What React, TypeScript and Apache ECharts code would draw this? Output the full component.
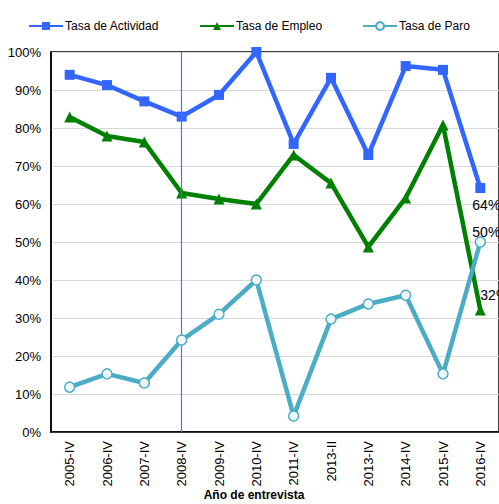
import React, { useEffect, useRef } from "react";
import * as echarts from "echarts";

const categories = ["2005-IV", "2006-IV", "2007-IV", "2008-IV", "2009-IV", "2010-IV", "2011-IV", "2013-II", "2013-IV", "2014-IV", "2015-IV", "2016-IV"];
const actividad = [94, 91.3, 87, 83, 88.7, 100, 75.8, 93.2, 72.9, 96.3, 95.3, 64.2];
const empleo = [82.9, 77.9, 76.3, 62.9, 61.3, 60, 72.9, 65.5, 48.7, 61.6, 80.8, 32.1];
const paro = [11.8, 15.3, 12.9, 24.2, 31, 40, 4.2, 29.7, 33.7, 36, 15.3, 50];

const FONT = "Liberation Sans, Arial, sans-serif";

function lastLabel(data: number[], position: any, offset: number[]) {
  return data.map((v, i) =>
    i === data.length - 1
      ? {
          value: v,
          label: {
            show: true,
            position,
            offset,
            formatter: (p: any) => Math.round(p.value) + "%",
            fontSize: 14,
            fontFamily: FONT,
            color: "#000",
          },
        }
      : v
  );
}

export default function App() {
  const ref = useRef<HTMLDivElement>(null);
  useEffect(() => {
    const chart = echarts.init(ref.current!, null, { renderer: "svg" });
    chart.setOption({
      animation: false,
      textStyle: { fontFamily: FONT },
      legend: {
        top: 20,
        left: 28,
        padding: 0,
        itemWidth: 34,
        itemHeight: 10,
        itemGap: 40,
        textStyle: { fontSize: 12, fontFamily: FONT, color: "#000", padding: [0, 0, 0, -3] },
        data: ["Tasa de Actividad", "Tasa de Empleo", "Tasa de Paro"],
      },
      grid: {
        left: 51,
        top: 52,
        bottom: 72,
        right: -4,
        show: true,
        borderColor: "#000",
        borderWidth: 1.5,
      },
      xAxis: {
        type: "category",
        data: categories,
        boundaryGap: true,
        axisLine: { lineStyle: { color: "#000", width: 1.5 } },
        axisTick: { show: false },
        axisLabel: { rotate: 90, fontSize: 13, color: "#000", margin: 9, fontFamily: FONT },
      },
      yAxis: {
        type: "value",
        min: 0,
        max: 100,
        interval: 10,
        axisLine: { show: true, lineStyle: { color: "#000", width: 1.5 } },
        axisTick: { show: false },
        splitLine: { lineStyle: { color: "#d9d9d9", width: 1 } },
        axisLabel: { formatter: "{value}%", fontSize: 13, color: "#000", margin: 10, fontFamily: FONT },
      },
      graphic: [
        {
          type: "text",
          x: 254,
          y: 489,
          style: {
            text: "Año de entrevista",
            font: "bold 12px Liberation Sans, Arial, sans-serif",
            fill: "#000",
            align: "center",
          },
        },
      ],
      series: [
        {
          name: "Tasa de Actividad",
          type: "line",
          data: lastLabel(actividad, "bottom", [6, 0]),
          symbol: "rect",
          symbolSize: 10,
          clip: false,
          lineStyle: { color: "#3366ff", width: 4.5 },
          itemStyle: { color: "#3366ff" },
          z: 3,
          markLine: {
            silent: true,
            symbol: "none",
            label: { show: false },
            lineStyle: { color: "#3b7ddd", width: 1.2, type: "solid", opacity: 1 },
            emphasis: { disabled: true },
            data: [{ xAxis: "2008-IV" }],
          },
        },
        {
          name: "Tasa de Empleo",
          type: "line",
          data: lastLabel(empleo, "top", [14, 2]),
          symbol: "triangle",
          symbolSize: 11,
          clip: false,
          lineStyle: { color: "#008000", width: 4.5 },
          itemStyle: { color: "#008000" },
          z: 4,
        },
        {
          name: "Tasa de Paro",
          type: "line",
          data: lastLabel(paro, "top", [6, 8]),
          symbol: "circle",
          symbolSize: 10,
          clip: false,
          lineStyle: { color: "#4bacc6", width: 4.5 },
          itemStyle: { color: "#eef8fb", borderColor: "#4bacc6", borderWidth: 1.5 },
          z: 5,
        },
      ],
    });
    return () => chart.dispose();
  }, []);
  return <div ref={ref} style={{ width: 499, height: 504, position: "absolute", left: 0, top: 0 }} />;
}
